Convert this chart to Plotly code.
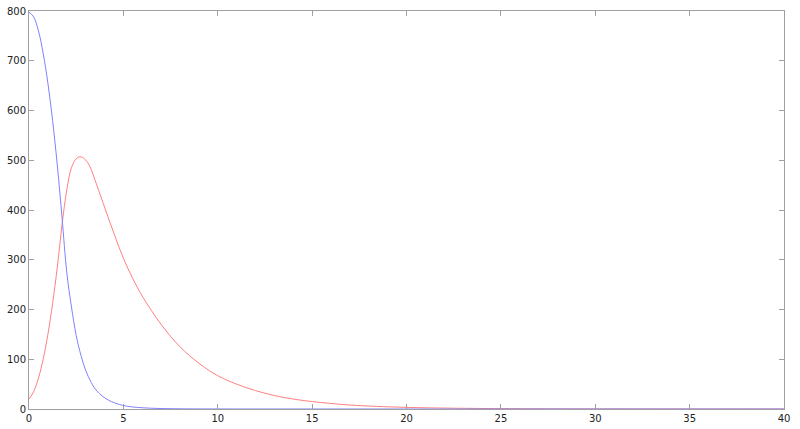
import plotly.graph_objects as go

# Values.
blue_x = [0, 0.25, 0.5, 0.75, 1.0, 1.25, 1.5, 1.75, 2.0, 2.25, 2.5, 2.75, 3.0,
          3.3, 3.6, 4.2, 5.0, 6.0, 7.0, 8.0, 10.0, 15.0, 20.0, 30.0, 40.0]
blue_y = [798, 788, 760, 715, 655, 580, 490, 385, 275, 205, 148, 108, 78,
          53, 36, 18, 7, 2.5, 1, 0.4, 0.1, 0, 0, 0, 0]

red_x = [0, 0.25, 0.5, 0.75, 1.0, 1.25, 1.5, 1.75, 2.0, 2.25, 2.5, 2.7, 2.9,
         3.1, 3.3, 3.5, 4.0, 4.5, 5.0, 5.5, 6.0, 7.0, 8.0, 9.0, 10.0, 11.0,
         12.0, 13.0, 14.0, 15.0, 17.0, 20.0, 25.0, 30.0, 35.0, 40.0]
red_y = [20, 35, 62, 100, 150, 212, 285, 370, 440, 485, 503, 507, 504,
         496, 481, 460, 406, 353, 303, 262, 227, 170, 125, 92, 67, 50,
         37, 27, 20, 15, 8, 3.3, 0.75, 0.16, 0.04, 0]

x_ticks = [0, 5, 10, 15, 20, 25, 30, 35, 40]
y_ticks = [0, 100, 200, 300, 400, 500, 600, 700, 800]

fig = go.Figure()
fig.add_trace(go.Scatter(
    x=red_x, y=red_y, mode="lines",
    line=dict(color="#ff8080", width=1, shape="spline", smoothing=1.0),
    name="red",
))
fig.add_trace(go.Scatter(
    x=blue_x, y=blue_y, mode="lines",
    line=dict(color="#8080ff", width=1, shape="spline", smoothing=1.0),
    name="blue",
))

axis_style = dict(
    showline=True, linecolor="#a0a0a0", linewidth=1, mirror="ticks",
    ticks="inside", ticklen=5, tickcolor="#a0a0a0",
    showgrid=False, zeroline=False, automargin=False,
    tickfont=dict(family="DejaVu Sans", size=10, color="#222222"),
)

fig.update_xaxes(range=[0, 40], tickvals=x_ticks, **axis_style)
fig.update_yaxes(range=[0, 800], tickvals=y_ticks, **axis_style)

fig.update_layout(
    width=800, height=429,
    margin=dict(l=29, r=16, t=11, b=20),
    plot_bgcolor="white", paper_bgcolor="white",
    showlegend=False,
)

# drop the default body margin so the figure sits at the window's corner
fig.write_html(
    "out.html",
    config={"displayModeBar": False},
    post_script="document.body.style.margin = '0';",
)
